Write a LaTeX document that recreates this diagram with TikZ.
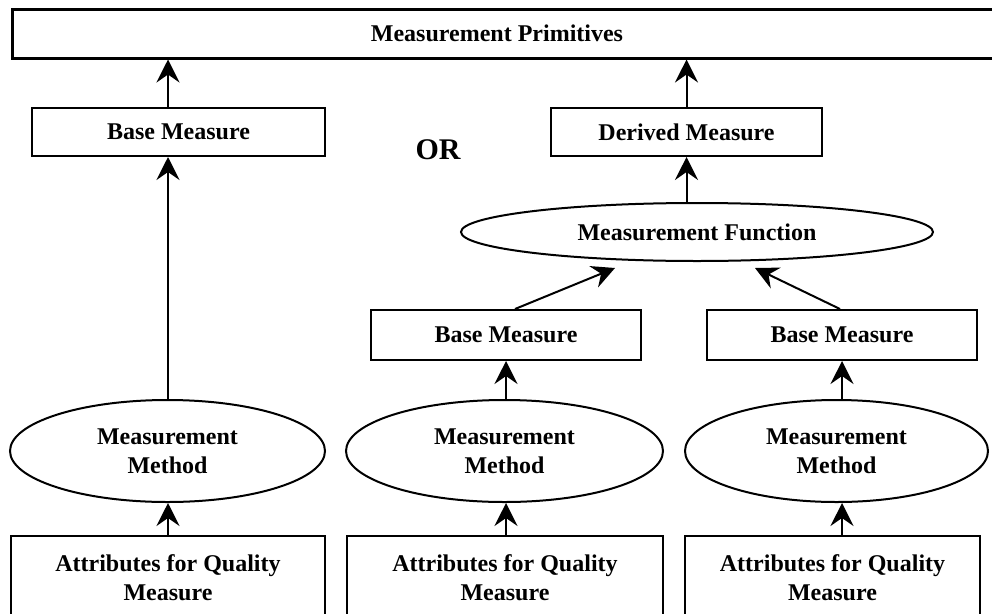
\documentclass[tikz,border=0pt]{standalone}
\usepackage{fontspec}
\setmainfont{Liberation Serif}
\usetikzlibrary{arrows.meta, shapes.geometric}
\tikzset{
  font=\bfseries\fontsize{24}{29}\selectfont,
  % Set arrowhead
  >={Stealth[length=23pt, width=23pt, inset=8pt]},
  % Measure box
  box/.style={draw, line width=2pt, shape=rectangle, inner sep=0pt,
    align=center},
  % Method / function node
  oval/.style={draw, line width=2pt, shape=ellipse, inner sep=0pt,
    align=center},
  % Arrows
  flow/.style={->, line width=2pt},
}

\begin{document}
\begin{tikzpicture}[x=1pt, y=-1pt]
  \useasboundingbox (0,0) rectangle (992,613);

  % top
  \node[box, minimum width=1000pt, minimum height=49pt, anchor=north west,
    line width=2.5pt] (prim) at (11,8) {};
  \node (primtext) at (497,33) {Measurement Primitives};
  \node[font=\bfseries\fontsize{30}{36}\selectfont] (or) at (438,150) {OR};

  % base measure on its own
  \node[box, minimum width=293pt, minimum height=48pt] (bm1) at (178.5,132) {Base Measure};
  \node[oval, minimum width=315pt, minimum height=102pt] (mm1) at (167.5,451) {Measurement\\Method};
  \node[box, minimum width=314pt, minimum height=83pt] (at1) at (168,577.5) {Attributes for Quality\\Measure};

  % derived measure
  \node[box, minimum width=271pt, minimum height=48pt] (dm) at (686.5,132) {Derived Measure};
  \node[oval, minimum width=472pt, minimum height=58pt] (mf) at (697,232) {Measurement Function};
  \node[box, minimum width=270pt, minimum height=50pt] (bm2) at (506,335) {Base Measure};
  \node[box, minimum width=270pt, minimum height=50pt] (bm3) at (842,335) {Base Measure};
  \node[oval, minimum width=317pt, minimum height=102pt] (mm2) at (504.5,451) {Measurement\\Method};
  \node[oval, minimum width=303pt, minimum height=102pt] (mm3) at (836.5,451) {Measurement\\Method};
  \node[box, minimum width=316pt, minimum height=83pt] (at2) at (505,577.5) {Attributes for Quality\\Measure};
  \node[box, minimum width=295pt, minimum height=83pt] (at3) at (832.5,577.5) {Attributes for Quality\\Measure};

  % left chain
  \draw[flow] (at1.north) -- (at1.north |- mm1.south);
  \draw[flow] (at1 |- mm1.north) -- (at1 |- bm1.south);
  \draw[flow] (at1 |- bm1.north) -- (at1 |- prim.south);

  % right chains
  \draw[flow] (at2.north -| bm2) -- (bm2 |- mm2.south);
  \draw[flow] (bm2 |- mm2.north) -- (bm2.south);
  \draw[flow] (at3.north -| bm3) -- (bm3 |- mm3.south);
  \draw[flow] (bm3 |- mm3.north) -- (bm3.south);
  \draw[flow] ([xshift=9pt]bm2.north) -- ([xshift=-82pt, yshift=-6pt]mf.south);
  \draw[flow] ([xshift=-2pt]bm3.north) -- ([xshift=58pt, yshift=-6pt]mf.south);
  \draw[flow] (dm |- mf.north) -- (dm.south);
  \draw[flow] (dm.north) -- (dm |- prim.south);
\end{tikzpicture}
\end{document}
